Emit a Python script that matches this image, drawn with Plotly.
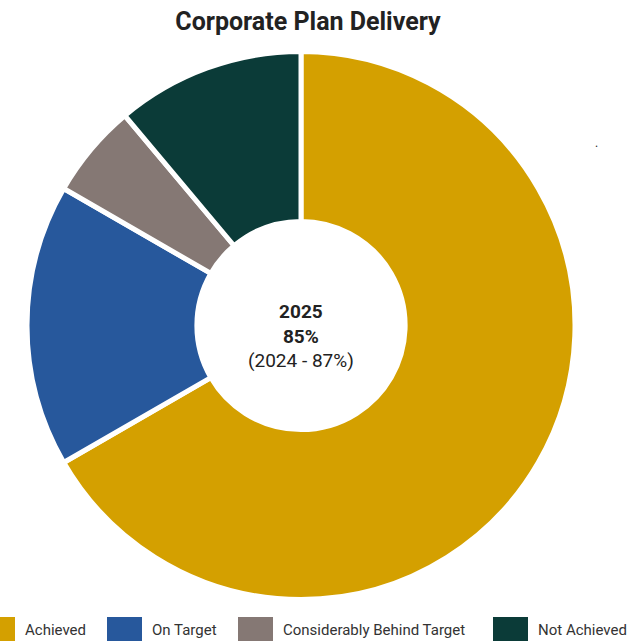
import plotly.graph_objects as go

# Corporate plan measures by delivery status
categories = ["Achieved", "On Target", "Considerably Behind Target", "Not Achieved"]
measures = [36, 9, 3, 6]
colours = ["#D4A000", "#27589C", "#857874", "#0B3B38"]

title_text = "Corporate Plan Delivery"
centre_year = "2025"
centre_score = "85%"
centre_previous = "(2024 - 87%)"

W, H = 636, 641
FONT = "Roboto, Arial, sans-serif"


def px(x):
    return x / W


def py(y):
    return (H - y) / H


fig = go.Figure(
    go.Pie(
        labels=categories,
        values=measures,
        marker=dict(colors=colours, line=dict(color="white", width=5)),
        hole=0.38,
        sort=False,
        direction="clockwise",
        rotation=0,
        textinfo="none",
        hoverinfo="label+value+percent",
        showlegend=False,
        domain=dict(x=[px(27), px(575)], y=[py(599.5), py(51.5)]),
    )
)

annotations = [
    dict(
        text=f"<b>{centre_year}</b><br><b>{centre_score}</b><br>{centre_previous}",
        x=px(301), y=py(336), font=dict(size=19, color="#222222"),
    ),
    dict(text=".", x=px(596), y=py(143), font=dict(size=12, color="#222222")),
]
for a in annotations:
    a.update(xref="paper", yref="paper", showarrow=False, xanchor="center", yanchor="middle")

# Legend row along the bottom edge, drawn as swatches with labels
swatch_left = [-20, 107, 238, 493]
swatch_w = 35
shapes = []
for cat, col, left in zip(categories, colours, swatch_left):
    shapes.append(dict(
        type="rect", xref="paper", yref="paper",
        x0=px(left), x1=px(left + swatch_w), y0=py(655), y1=py(617),
        fillcolor=col, line=dict(width=0), layer="above",
    ))
    annotations.append(dict(
        text=cat, xref="paper", yref="paper", showarrow=False,
        x=px(left + swatch_w + 8), y=py(630), xanchor="left", yanchor="middle",
        font=dict(size=15, color="#333333", family=FONT),
    ))

fig.update_layout(
    width=W,
    height=H,
    margin=dict(l=0, r=0, t=0, b=0),
    paper_bgcolor="white",
    plot_bgcolor="white",
    font=dict(family=FONT),
    title=dict(
        text=f"<b>{title_text}</b>",
        x=px(308), xanchor="center",
        y=py(21), yanchor="middle",
        font=dict(size=25, color="#222222", family=FONT),
    ),
    annotations=annotations,
    shapes=shapes,
)

fig.write_html("out.html")
